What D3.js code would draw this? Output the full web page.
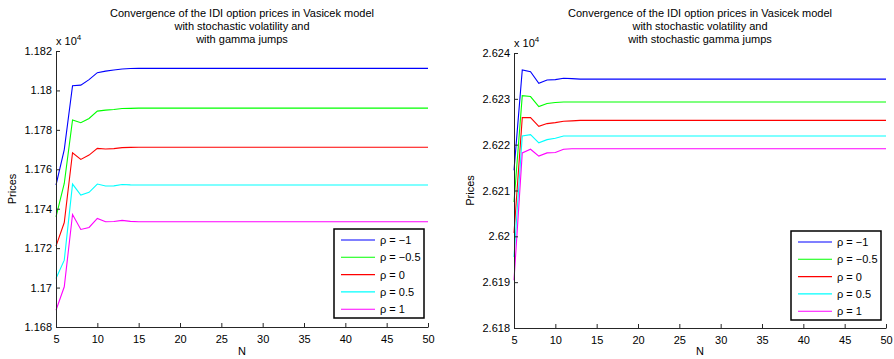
<!DOCTYPE html>
<html>
<head>
<meta charset="utf-8">
<script src="https://cdn.jsdelivr.net/npm/d3@7"></script>
<style>
  body { margin: 0; background: #fff; }
  text { font-family: "Liberation Sans", Arial, sans-serif; }
</style>
</head>
<body>
<svg id="chart" width="894" height="359"></svg>
<script>
// N values (x axis)
let nValues = [5, 6, 7, 8, 9, 10, 11, 12, 13, 14, 15, 16, 17, 18, 19, 20, 21, 22, 23, 24, 25, 26, 27, 28, 29,
  30, 31, 32, 33, 34, 35, 36, 37, 38, 39, 40, 41, 42, 43, 44, 45, 46, 47, 48, 49, 50];

let rhoLabels = ["ρ = −1", "ρ = −0.5", "ρ = 0", "ρ = 0.5", "ρ = 1"];
let seriesColors = ["#0000ff", "#00ff00", "#ff0000", "#00ffff", "#ff00ff"];

// left panel: gamma jumps
let leftRhoM1 = [11752.0, 11770.0, 11802.4, 11802.7, 11805.5, 11809.0, 11809.8, 11810.4, 11810.9, 11811.1,
  11811.2, 11811.2, 11811.2, 11811.2, 11811.2, 11811.2, 11811.2, 11811.2, 11811.2, 11811.2, 11811.2, 11811.2,
  11811.2, 11811.2, 11811.2, 11811.2, 11811.2, 11811.2, 11811.2, 11811.2, 11811.2, 11811.2, 11811.2, 11811.2,
  11811.2, 11811.2, 11811.2, 11811.2, 11811.2, 11811.2, 11811.2, 11811.2, 11811.2, 11811.2, 11811.2, 11811.2];
let leftRhoM05 = [11735.9, 11752.8, 11785.0, 11783.6, 11785.8, 11789.5, 11790.0, 11790.3, 11790.8, 11790.9,
  11791.0, 11791.0, 11791.0, 11791.0, 11791.0, 11791.0, 11791.0, 11791.0, 11791.0, 11791.0, 11791.0, 11791.0,
  11791.0, 11791.0, 11791.0, 11791.0, 11791.0, 11791.0, 11791.0, 11791.0, 11791.0, 11791.0, 11791.0, 11791.0,
  11791.0, 11791.0, 11791.0, 11791.0, 11791.0, 11791.0, 11791.0, 11791.0, 11791.0, 11791.0, 11791.0, 11791.0];
let leftRho0 = [11721.0, 11733.0, 11768.4, 11765.0, 11767.2, 11770.6, 11770.3, 11770.5, 11771.0, 11771.1,
  11771.2, 11771.2, 11771.2, 11771.2, 11771.2, 11771.2, 11771.2, 11771.2, 11771.2, 11771.2, 11771.2, 11771.2,
  11771.2, 11771.2, 11771.2, 11771.2, 11771.2, 11771.2, 11771.2, 11771.2, 11771.2, 11771.2, 11771.2, 11771.2,
  11771.2, 11771.2, 11771.2, 11771.2, 11771.2, 11771.2, 11771.2, 11771.2, 11771.2, 11771.2, 11771.2, 11771.2];
let leftRho05 = [11704.6, 11713.9, 11752.5, 11746.9, 11748.3, 11752.5, 11751.5, 11751.6, 11752.3, 11752.1,
  11752.0, 11752.0, 11752.0, 11752.0, 11752.0, 11752.0, 11752.0, 11752.0, 11752.0, 11752.0, 11752.0, 11752.0,
  11752.0, 11752.0, 11752.0, 11752.0, 11752.0, 11752.0, 11752.0, 11752.0, 11752.0, 11752.0, 11752.0, 11752.0,
  11752.0, 11752.0, 11752.0, 11752.0, 11752.0, 11752.0, 11752.0, 11752.0, 11752.0, 11752.0, 11752.0, 11752.0];
let leftRho1 = [11688.5, 11700.4, 11737.1, 11729.5, 11730.5, 11735.1, 11733.4, 11733.5, 11734.1, 11733.6,
  11733.4, 11733.4, 11733.4, 11733.4, 11733.4, 11733.4, 11733.4, 11733.4, 11733.4, 11733.4, 11733.4, 11733.4,
  11733.4, 11733.4, 11733.4, 11733.4, 11733.4, 11733.4, 11733.4, 11733.4, 11733.4, 11733.4, 11733.4, 11733.4,
  11733.4, 11733.4, 11733.4, 11733.4, 11733.4, 11733.4, 11733.4, 11733.4, 11733.4, 11733.4, 11733.4, 11733.4];

// right panel: stochastic gamma jumps
let rightRhoM1 = [26214.4, 26236.3, 26235.9, 26233.4, 26234.1, 26234.2, 26234.5, 26234.4, 26234.3, 26234.3,
  26234.3, 26234.3, 26234.3, 26234.3, 26234.3, 26234.3, 26234.3, 26234.3, 26234.3, 26234.3, 26234.3, 26234.3,
  26234.3, 26234.3, 26234.3, 26234.3, 26234.3, 26234.3, 26234.3, 26234.3, 26234.3, 26234.3, 26234.3, 26234.3,
  26234.3, 26234.3, 26234.3, 26234.3, 26234.3, 26234.3, 26234.3, 26234.3, 26234.3, 26234.3, 26234.3, 26234.3];
let rightRhoM05 = [26207.5, 26230.7, 26230.5, 26228.3, 26229.0, 26229.2, 26229.3, 26229.3, 26229.3, 26229.3,
  26229.3, 26229.3, 26229.3, 26229.3, 26229.3, 26229.3, 26229.3, 26229.3, 26229.3, 26229.3, 26229.3, 26229.3,
  26229.3, 26229.3, 26229.3, 26229.3, 26229.3, 26229.3, 26229.3, 26229.3, 26229.3, 26229.3, 26229.3, 26229.3,
  26229.3, 26229.3, 26229.3, 26229.3, 26229.3, 26229.3, 26229.3, 26229.3, 26229.3, 26229.3, 26229.3, 26229.3];
let rightRho0 = [26200.7, 26225.9, 26225.9, 26224.0, 26224.6, 26224.8, 26225.1, 26225.2, 26225.3, 26225.3,
  26225.3, 26225.3, 26225.3, 26225.3, 26225.3, 26225.3, 26225.3, 26225.3, 26225.3, 26225.3, 26225.3, 26225.3,
  26225.3, 26225.3, 26225.3, 26225.3, 26225.3, 26225.3, 26225.3, 26225.3, 26225.3, 26225.3, 26225.3, 26225.3,
  26225.3, 26225.3, 26225.3, 26225.3, 26225.3, 26225.3, 26225.3, 26225.3, 26225.3, 26225.3, 26225.3, 26225.3];
let rightRho05 = [26195.5, 26221.9, 26222.2, 26220.4, 26221.1, 26221.4, 26221.9, 26221.9, 26221.9, 26221.9,
  26221.9, 26221.9, 26221.9, 26221.9, 26221.9, 26221.9, 26221.9, 26221.9, 26221.9, 26221.9, 26221.9, 26221.9,
  26221.9, 26221.9, 26221.9, 26221.9, 26221.9, 26221.9, 26221.9, 26221.9, 26221.9, 26221.9, 26221.9, 26221.9,
  26221.9, 26221.9, 26221.9, 26221.9, 26221.9, 26221.9, 26221.9, 26221.9, 26221.9, 26221.9, 26221.9, 26221.9];
let rightRho1 = [26190.4, 26218.2, 26219.0, 26217.5, 26218.2, 26218.3, 26219.0, 26219.1, 26219.1, 26219.1,
  26219.1, 26219.1, 26219.1, 26219.1, 26219.1, 26219.1, 26219.1, 26219.1, 26219.1, 26219.1, 26219.1, 26219.1,
  26219.1, 26219.1, 26219.1, 26219.1, 26219.1, 26219.1, 26219.1, 26219.1, 26219.1, 26219.1, 26219.1, 26219.1,
  26219.1, 26219.1, 26219.1, 26219.1, 26219.1, 26219.1, 26219.1, 26219.1, 26219.1, 26219.1, 26219.1, 26219.1];

let xTicks = [5, 10, 15, 20, 25, 30, 35, 40, 45, 50];
let leftYTicks = [11680, 11700, 11720, 11740, 11760, 11780, 11800, 11820];
let rightYTicks = [26180, 26190, 26200, 26210, 26220, 26230, 26240];

let leftTitle = ["Convergence of the IDI option prices in Vasicek model", "with stochastic volatility and", "with gamma jumps"];
let rightTitle = ["Convergence of the IDI option prices in Vasicek model", "with stochastic volatility and", "with stochastic gamma jumps"];

function drawPanel(svg, opts) {
  let g = svg.append("g");
  let x = d3.scaleLinear().domain([5, 50]).range([opts.x0, opts.x1]);
  let y = d3.scaleLinear().domain([opts.yTicks[0], opts.yTicks[opts.yTicks.length - 1]]).range([opts.y0, opts.y1]);

  // series lines
  let line = d3.line().x((d, i) => x(nValues[i])).y(d => y(d));
  opts.series.forEach((s, i) => {
    g.append("path")
      .attr("d", line(s))
      .attr("fill", "none")
      .attr("stroke", seriesColors[i])
      .attr("stroke-width", 1.1);
  });

  // x axis, ticks pointing inward
  let xAxis = g.append("g")
    .attr("transform", "translate(0," + opts.y0 + ")")
    .call(d3.axisBottom(x).tickValues(xTicks).tickSizeInner(-4).tickSizeOuter(0).tickPadding(8));
  xAxis.select(".domain").attr("stroke", "#262626");
  xAxis.selectAll(".tick line").attr("stroke", "#262626");
  xAxis.selectAll("text").attr("font-size", 11).attr("fill", "#000").attr("font-family", "Liberation Sans, Arial, sans-serif");

  // y axis
  let yAxis = g.append("g")
    .attr("transform", "translate(" + opts.x0 + ",0)")
    .call(d3.axisLeft(y).tickValues(opts.yTicks).tickSizeInner(-4).tickSizeOuter(0).tickPadding(4)
      .tickFormat(v => String(+(v / 1e4).toFixed(4))));
  yAxis.select(".domain").attr("stroke", "#262626");
  yAxis.selectAll(".tick line").attr("stroke", "#262626");
  yAxis.selectAll("text").attr("font-size", 11).attr("fill", "#000").attr("font-family", "Liberation Sans, Arial, sans-serif");

  // exponent label
  let ex = g.append("text")
    .attr("x", opts.x0)
    .attr("y", opts.y1 - 6)
    .attr("font-size", 11);
  ex.append("tspan").text("x 10");
  ex.append("tspan").attr("dy", -5).attr("font-size", 8).text("4");

  // titles
  opts.title.forEach((t, i) => {
    g.append("text")
      .attr("x", (opts.x0 + opts.x1) / 2)
      .attr("y", 17 + i * 13)
      .attr("text-anchor", "middle")
      .attr("font-size", 11)
      .text(t);
  });

  // axis labels
  g.append("text")
    .attr("x", (opts.x0 + opts.x1) / 2)
    .attr("y", 355)
    .attr("text-anchor", "middle")
    .attr("font-size", 11)
    .text("N");
  g.append("text")
    .attr("transform", "translate(" + opts.yLabelX + "," + ((opts.y0 + opts.y1) / 2) + ")rotate(-90)")
    .attr("text-anchor", "middle")
    .attr("font-size", 11)
    .text("Prices");

  // legend
  let lg = g.append("g").attr("transform", "translate(" + opts.legendX + "," + opts.legendY + ")");
  lg.append("rect")
    .attr("width", 90)
    .attr("height", 89)
    .attr("fill", "#fff")
    .attr("stroke", "#000")
    .attr("stroke-width", 1.5);
  rhoLabels.forEach((lab, i) => {
    let yy = 11 + i * 17.3;
    lg.append("line")
      .attr("x1", 7).attr("x2", 41)
      .attr("y1", yy).attr("y2", yy)
      .attr("stroke", seriesColors[i])
      .attr("stroke-width", 1.1);
    lg.append("text")
      .attr("x", 46)
      .attr("y", yy + 4)
      .attr("font-size", 11)
      .text(lab);
  });
}

let svg = d3.select("#chart");

drawPanel(svg, {
  x0: 56, x1: 428, y0: 327, y1: 51,
  yTicks: leftYTicks,
  series: [leftRhoM1, leftRhoM05, leftRho0, leftRho05, leftRho1],
  title: leftTitle,
  yLabelX: 16,
  legendX: 334, legendY: 229
});

drawPanel(svg, {
  x0: 514, x1: 886, y0: 328, y1: 53,
  yTicks: rightYTicks,
  series: [rightRhoM1, rightRhoM05, rightRho0, rightRho05, rightRho1],
  title: rightTitle,
  yLabelX: 474,
  legendX: 791, legendY: 231
});
</script>
</body>
</html>
